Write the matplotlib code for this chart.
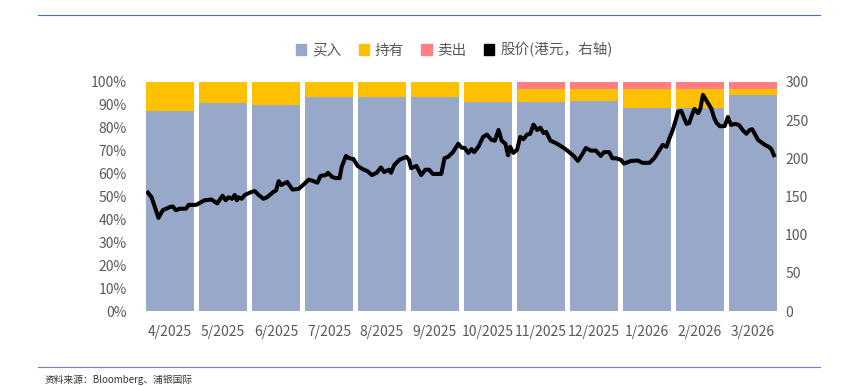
import numpy as np
import matplotlib.pyplot as plt
from matplotlib.patches import Patch
from matplotlib.lines import Line2D

plt.rcParams['font.family'] = ['Noto Sans CJK SC', 'DejaVu Sans']

# monthly buy / hold / sell share of analyst ratings
months = ['4/2025', '5/2025', '6/2025', '7/2025', '8/2025', '9/2025',
          '10/2025', '11/2025', '12/2025', '1/2026', '2/2026', '3/2026']
buy = [87.3, 90.8, 90.1, 93.3, 93.3, 93.3, 91.0, 91.0, 91.5, 88.8, 88.8, 94.2]
hold = [12.7, 9.2, 9.9, 6.7, 6.7, 6.7, 9.0, 6.0, 5.5, 8.2, 8.2, 2.8]
sell = [0, 0, 0, 0, 0, 0, 0, 3.0, 3.0, 3.0, 3.0, 3.0]

# share price (HKD), time in months since start of Apr 2025
price_t = [0.08, 0.15, 0.28, 0.36, 0.49, 0.55, 0.61, 0.68, 0.80, 0.85, 0.99,
           1.15, 1.28, 1.39, 1.49, 1.55, 1.60, 1.67, 1.72, 1.76, 1.79, 1.85,
           1.91, 2.04, 2.10, 2.17, 2.26, 2.33, 2.45, 2.50, 2.55, 2.60, 2.71,
           2.81, 2.93, 3.12, 3.21, 3.28, 3.34, 3.44, 3.48, 3.56, 3.63, 3.70,
           3.74, 3.82, 3.88, 3.96, 4.04, 4.13, 4.23, 4.31, 4.40, 4.48, 4.54,
           4.63, 4.67, 4.73, 4.83, 4.96, 5.01, 5.05, 5.15, 5.24, 5.32, 5.39,
           5.46, 5.62, 5.68, 5.75, 5.84, 5.94, 6.00, 6.06, 6.13, 6.19, 6.24,
           6.32, 6.41, 6.48, 6.57, 6.63, 6.70, 6.76, 6.83, 6.88, 6.92, 6.98,
           7.05, 7.11, 7.17, 7.24, 7.30, 7.36, 7.43, 7.49, 7.55, 7.60, 7.68,
           7.78, 7.90, 8.00, 8.12, 8.20, 8.27, 8.35, 8.44, 8.54, 8.63, 8.69,
           8.79, 8.85, 8.92, 9.01, 9.07, 9.20, 9.33, 9.42, 9.55, 9.64, 9.74,
           9.80, 9.87, 9.93, 9.99, 10.06, 10.09, 10.15, 10.25, 10.30, 10.36,
           10.40, 10.47, 10.51, 10.56, 10.63, 10.72, 10.77, 10.82, 10.88,
           10.97, 11.03, 11.09, 11.17, 11.24, 11.31, 11.38, 11.44, 11.49,
           11.57, 11.60, 11.66, 11.73, 11.80, 11.85, 11.90]
price = [155, 149, 122, 132, 136, 137, 132, 134, 134, 139, 139,
         145, 146, 141, 151, 145, 149, 147, 152, 145, 149, 147,
         152, 156, 157, 152, 147, 149, 156, 158, 170, 165, 169,
         159, 160, 172, 170, 168, 177, 178, 181, 175.5, 174, 174,
         189, 203, 200, 199, 190, 186, 183, 178, 181, 188, 182,
         185, 181, 191, 198, 202, 198, 187, 190, 178, 185, 185,
         179.5, 179.5, 200, 202, 208, 219, 214, 213.5, 207, 212, 208,
         215, 228, 231, 224, 223, 237, 223, 219, 204, 215, 207,
         211, 228, 225, 231, 232, 244, 237, 240, 233, 234.5, 223,
         220, 215, 210, 203, 196.5, 204, 213.5, 210, 210, 203, 208,
         208, 200, 200, 198, 193, 196.5, 197, 194, 194, 200, 211,
         217.5, 215, 226.6, 237, 253, 261, 262, 245, 246, 258,
         264.6, 259, 264.6, 283, 275, 264.6, 253, 246, 242,
         242, 254, 243.6, 245, 243.6, 237, 232, 237, 238,
         228, 224, 221, 217.5, 215, 212, 204]

c_buy = '#97A8C9'
c_hold = '#FFC000'
c_sell = '#FF7F82'
grey = '#595959'

fig = plt.figure(figsize=(8.49, 3.86), dpi=100)
ax = fig.add_axes([0.172, 0.194, 0.743, 0.594])

x = np.arange(len(months))
w = 0.91
buy_f = np.array(buy) / 100
hold_f = np.array(hold) / 100
sell_f = np.array(sell) / 100
ax.bar(x, buy_f, w, color=c_buy)
ax.bar(x, hold_f, w, bottom=buy_f, color=c_hold)
ax.bar(x, sell_f, w, bottom=buy_f + hold_f, color=c_sell)

ax.set_xlim(-w / 2, len(months) - 1 + w / 2)
ax.set_ylim(0, 1)
ax.set_yticks(np.arange(0, 1.01, 0.1))
ax.set_yticklabels([f'{int(round(v * 100))}%' for v in np.arange(0, 1.01, 0.1)])
ax.set_xticks(x)
ax.set_xticklabels(months)
ax.tick_params(length=0, colors=grey, labelsize=10, pad=10)
ax.tick_params(axis='y', pad=14)
for s in ax.spines.values():
    s.set_visible(False)

ax2 = ax.twinx()
ax2.plot(np.array(price_t) - 0.5, price, color='black', lw=2.9,
         solid_joinstyle='round')
ax2.set_ylim(0, 300)
ax2.set_yticks(range(0, 301, 50))
ax2.tick_params(length=0, colors=grey, labelsize=10, pad=6)
for s in ax2.spines.values():
    s.set_visible(False)

handles = [Patch(color=c_buy), Patch(color=c_hold), Patch(color=c_sell),
           Patch(color='black')]
labels = ['买入', '持有', '卖出', '股价(港元，右轴)']
fig.legend(handles, labels, loc='center', bbox_to_anchor=(0.535, 1 - 50 / 386),
           ncol=4, frameon=False, fontsize=10.5, labelcolor=grey,
           handlelength=0.7, handleheight=0.7, handletextpad=0.4,
           columnspacing=1.2)

fig.add_artist(Line2D([38 / 849, 820 / 849], [1 - 15 / 386, 1 - 15 / 386],
                      color='#4472C4', lw=0.8))
fig.add_artist(Line2D([38 / 849, 820 / 849], [1 - 367 / 386, 1 - 367 / 386],
                      color='#7F7FBF', lw=0.8))
fig.text(45 / 849, 1 - 380 / 386, '资料来源：Bloomberg、浦银国际', fontsize=7,
         color='#333333', va='center')

fig.savefig('out.png', dpi=100)
